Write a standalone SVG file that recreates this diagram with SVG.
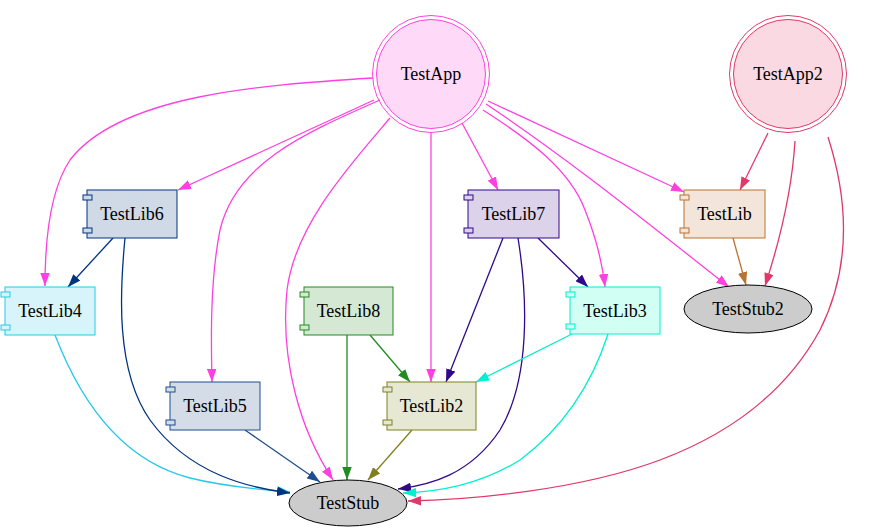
<svg xmlns="http://www.w3.org/2000/svg" width="876" height="532" viewBox="0 0 876 532">
<style>
text{font-family:"Liberation Serif","Times New Roman",Tinos,"Nimbus Roman","Noto Serif","DejaVu Serif",serif;font-size:18px;text-anchor:middle;fill:#000;stroke:none}
.e{fill:none;stroke-width:1.3}
</style>
<defs>
<marker id="aM" viewBox="0 0 13 9.5" refX="13" refY="4.75" markerWidth="13" markerHeight="9.5" markerUnits="userSpaceOnUse" orient="auto"><path d="M0,0L13,4.75L0,9.5z" fill="#ff40e0"/></marker>
<marker id="aR" viewBox="0 0 13 9.5" refX="13" refY="4.75" markerWidth="13" markerHeight="9.5" markerUnits="userSpaceOnUse" orient="auto"><path d="M0,0L13,4.75L0,9.5z" fill="#e0386a"/></marker>
<marker id="aB" viewBox="0 0 13 9.5" refX="13" refY="4.75" markerWidth="13" markerHeight="9.5" markerUnits="userSpaceOnUse" orient="auto"><path d="M0,0L13,4.75L0,9.5z" fill="#003380"/></marker>
<marker id="aC" viewBox="0 0 13 9.5" refX="13" refY="4.75" markerWidth="13" markerHeight="9.5" markerUnits="userSpaceOnUse" orient="auto"><path d="M0,0L13,4.75L0,9.5z" fill="#28c8e8"/></marker>
<marker id="aI" viewBox="0 0 13 9.5" refX="13" refY="4.75" markerWidth="13" markerHeight="9.5" markerUnits="userSpaceOnUse" orient="auto"><path d="M0,0L13,4.75L0,9.5z" fill="#30088a"/></marker>
<marker id="aT" viewBox="0 0 13 9.5" refX="13" refY="4.75" markerWidth="13" markerHeight="9.5" markerUnits="userSpaceOnUse" orient="auto"><path d="M0,0L13,4.75L0,9.5z" fill="#b87333"/></marker>
<marker id="aG" viewBox="0 0 13 9.5" refX="13" refY="4.75" markerWidth="13" markerHeight="9.5" markerUnits="userSpaceOnUse" orient="auto"><path d="M0,0L13,4.75L0,9.5z" fill="#228b22"/></marker>
<marker id="aA" viewBox="0 0 13 9.5" refX="13" refY="4.75" markerWidth="13" markerHeight="9.5" markerUnits="userSpaceOnUse" orient="auto"><path d="M0,0L13,4.75L0,9.5z" fill="#00f0d0"/></marker>
<marker id="aS" viewBox="0 0 13 9.5" refX="13" refY="4.75" markerWidth="13" markerHeight="9.5" markerUnits="userSpaceOnUse" orient="auto"><path d="M0,0L13,4.75L0,9.5z" fill="#1f4e8c"/></marker>
<marker id="aO" viewBox="0 0 13 9.5" refX="13" refY="4.75" markerWidth="13" markerHeight="9.5" markerUnits="userSpaceOnUse" orient="auto"><path d="M0,0L13,4.75L0,9.5z" fill="#808020"/></marker>
</defs>
<g id="edges">
<g stroke="#ff40e0" marker-end="url(#aM)" class="e">
<path class="e" d="M373,78 C260,85 120,95 70,160 C50,190 45,240 45,286"/>
<path class="e" d="M374,100 L178,190"/>
<path class="e" d="M380,100 C300,135 235,165 220,230 C210,280 211,340 212,382"/>
<path class="e" d="M390,118 C350,165 295,225 287,290 C280,360 300,430 333,480"/>
<path class="e" d="M431,132 L431,382"/>
<path class="e" d="M462,123 L498,190"/>
<path class="e" d="M483,110 C530,140 570,170 585,210 C595,235 602,260 605,287"/>
<path class="e" d="M486,104 C570,160 650,225 729,287"/>
<path class="e" d="M488,101 L684,192"/>
</g>
<g stroke="#e0386a" marker-end="url(#aR)" class="e">
<path class="e" d="M768,133 L740,190"/>
<path class="e" d="M795,141 C792,190 780,240 765,286"/>
<path class="e" d="M828,137 C845,190 855,260 820,330 C790,385 740,430 660,460 C580,490 470,500 408,501"/>
</g>
<path class="e" stroke="#28c8e8" marker-end="url(#aC)" d="M55,335 C80,400 120,460 190,478 C230,488 270,490 290,492"/>
<g stroke="#003380" marker-end="url(#aB)" class="e">
<path class="e" d="M113,238 L68,287"/>
<path class="e" d="M125,238 C120,290 115,370 150,420 C190,475 250,488 290,493"/>
</g>
<g stroke="#30088a" marker-end="url(#aI)" class="e">
<path class="e" d="M503,238 L446,382"/>
<path class="e" d="M518,238 C528,300 530,380 500,430 C470,475 430,485 398,489"/>
<path class="e" d="M538,238 L588,287"/>
</g>
<path class="e" stroke="#b87333" marker-end="url(#aT)" d="M733,238 L746,285"/>
<g stroke="#228b22" marker-end="url(#aG)" class="e">
<path class="e" d="M370,335 L410,382"/>
<path class="e" d="M347,335 L347,480"/>
</g>
<g stroke="#00f0d0" marker-end="url(#aA)" class="e">
<path class="e" d="M572,334 L476,382"/>
<path class="e" d="M608,334 C590,390 560,430 520,460 C480,485 440,492 403,493"/>
</g>
<path class="e" stroke="#1f4e8c" marker-end="url(#aS)" d="M245,430 L320,482"/>
<path class="e" stroke="#808020" marker-end="url(#aO)" d="M412,430 L368,480"/>
</g>
<g id="TestApp">
<circle cx="431" cy="74" r="58.5" fill="none" stroke="#ff40e0"/>
<circle cx="431" cy="74" r="54.5" fill="#ffd9f8" stroke="#ff40e0"/>
<text x="431" y="80">TestApp</text>
</g>
<g id="TestApp2">
<circle cx="788" cy="74" r="58.5" fill="none" stroke="#e0386a"/>
<circle cx="788" cy="74" r="54.5" fill="#fad9e2" stroke="#e0386a"/>
<text x="788" y="80">TestApp2</text>
</g>
<g id="TestLib6" fill="#d0d9e6" stroke="#003380">
<rect x="87" y="190" width="90" height="48"/>
<rect x="83" y="195" width="9" height="5"/>
<rect x="83" y="228" width="9" height="5"/>
<text x="132" y="220">TestLib6</text>
</g>
<g id="TestLib7" fill="#dcd2ea" stroke="#30088a">
<rect x="468" y="190" width="91" height="48"/>
<rect x="464" y="195" width="9" height="5"/>
<rect x="464" y="228" width="9" height="5"/>
<text x="513.5" y="220">TestLib7</text>
</g>
<g id="TestLib" fill="#f3e5d9" stroke="#b87333">
<rect x="684" y="190" width="81" height="48"/>
<rect x="680" y="195" width="9" height="5"/>
<rect x="680" y="228" width="9" height="5"/>
<text x="724.5" y="220">TestLib</text>
</g>
<g id="TestLib4" fill="#d7f4fa" stroke="#28c8e8">
<rect x="5" y="287" width="90" height="48"/>
<rect x="1" y="292" width="9" height="5"/>
<rect x="1" y="325" width="9" height="5"/>
<text x="50" y="317">TestLib4</text>
</g>
<g id="TestLib8" fill="#d4e8d4" stroke="#228b22">
<rect x="304" y="287" width="89" height="48"/>
<rect x="300" y="292" width="9" height="5"/>
<rect x="300" y="325" width="9" height="5"/>
<text x="348.5" y="317">TestLib8</text>
</g>
<g id="TestLib3" fill="#d2fff3" stroke="#00f0d0">
<rect x="570" y="287" width="90" height="47"/>
<rect x="566" y="292" width="9" height="5"/>
<rect x="566" y="324" width="9" height="5"/>
<text x="615" y="317">TestLib3</text>
</g>
<g id="TestStub2">
<ellipse cx="748" cy="309" rx="64" ry="24" fill="#cccccc" stroke="#000"/>
<text x="748" y="315">TestStub2</text>
</g>
<g id="TestLib5" fill="#d3dce7" stroke="#1f4e8c">
<rect x="170" y="382" width="90" height="48"/>
<rect x="166" y="387" width="9" height="5"/>
<rect x="166" y="420" width="9" height="5"/>
<text x="215" y="412">TestLib5</text>
</g>
<g id="TestLib2" fill="#e6e8d4" stroke="#808020">
<rect x="387" y="382" width="89" height="48"/>
<rect x="383" y="387" width="9" height="5"/>
<rect x="383" y="420" width="9" height="5"/>
<text x="431.5" y="412">TestLib2</text>
</g>
<g id="TestStub">
<ellipse cx="348" cy="503" rx="59" ry="23" fill="#cccccc" stroke="#000"/>
<text x="348" y="509">TestStub</text>
</g>
</svg>
